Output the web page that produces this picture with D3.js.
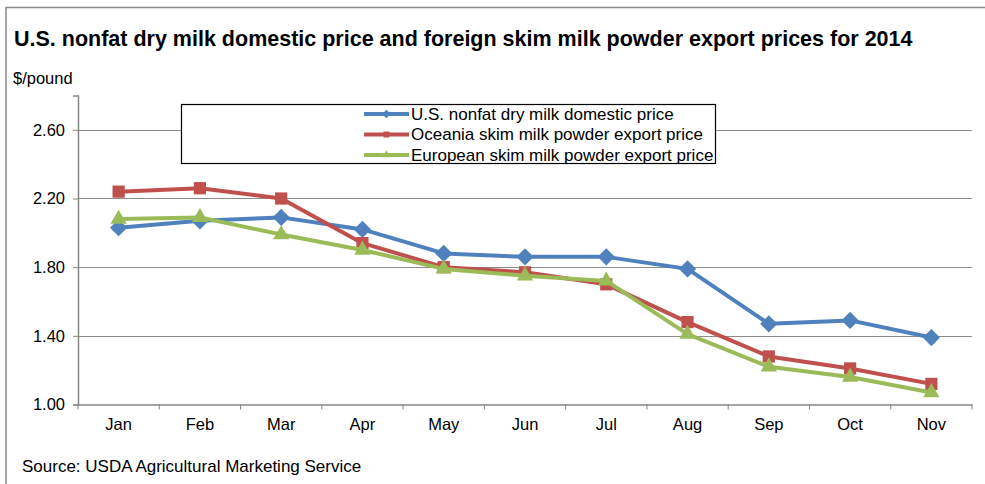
<!DOCTYPE html>
<html>
<head>
<meta charset="utf-8">
<script src="https://cdn.jsdelivr.net/npm/d3@7"></script>
<style>
  body { margin: 0; background: #fff; }
  svg text { font-family: "Liberation Sans", Arial, sans-serif; fill: #000; }
</style>
</head>
<body>
<div id="container"></div>
<script>
// data ($/pound)
const months = ["Jan", "Feb", "Mar", "Apr", "May", "Jun", "Jul", "Aug", "Sep", "Oct", "Nov"];
const usDomestic = [2.03, 2.07, 2.09, 2.02, 1.88, 1.86, 1.86, 1.79, 1.47, 1.49, 1.39];
const oceaniaExport = [2.24, 2.26, 2.20, 1.94, 1.80, 1.77, 1.70, 1.48, 1.28, 1.21, 1.12];
const europeExport = [2.08, 2.09, 1.99, 1.90, 1.79, 1.75, 1.72, 1.41, 1.22, 1.16, 1.07];
const yTicks = [1.0, 1.4, 1.8, 2.2, 2.6];
const seriesNames = [
  "U.S. nonfat dry milk domestic price",
  "Oceania skim milk powder export price",
  "European skim milk powder export price"
];

const series = [
  {name: seriesNames[0], values: usDomestic, color: "#4F81BD", symbol: d3.symbolDiamond2, size: 190},
  {name: seriesNames[1], values: oceaniaExport, color: "#C0504D", symbol: d3.symbolSquare2, size: 190},
  {name: seriesNames[2], values: europeExport, color: "#9BBB59", symbol: d3.symbolTriangle2, size: 190}
];

const W = 985, H = 484;
const plot = {left: 78, right: 972, top: 95.5, bottom: 404.5};
const fs = 16.5;

const svg = d3.select("#container").append("svg")
  .attr("width", W)
  .attr("height", H);

// outer frame (only top and left edges visible)
svg.append("path")
  .attr("d", `M6,${H} L6,7.5 L${W},7.5`)
  .attr("fill", "none")
  .attr("stroke", "#8a8a8a")
  .attr("stroke-width", 1.5);

svg.append("text")
  .attr("x", 14).attr("y", 46)
  .attr("font-size", 21.5)
  .attr("font-weight", "bold")
  .text("U.S. nonfat dry milk domestic price and foreign skim milk powder export prices for 2014");

svg.append("text")
  .attr("x", 13).attr("y", 84)
  .attr("font-size", fs)
  .text("$/pound");

const x = d3.scaleBand()
  .domain(months)
  .range([plot.left, plot.right]);
const y = d3.scaleLinear()
  .domain([1.0, 2.8])
  .range([plot.bottom, plot.top]);

// gridlines
svg.append("g")
  .selectAll("line")
  .data(yTicks.slice(1))
  .join("line")
  .attr("x1", plot.left).attr("x2", plot.right)
  .attr("y1", d => Math.round(y(d)) + 0.5).attr("y2", d => Math.round(y(d)) + 0.5)
  .attr("stroke", "#8c8c8c")
  .attr("stroke-width", 1.2);

// y axis
const yAxis = svg.append("g")
  .attr("transform", `translate(${plot.left},0)`)
  .call(d3.axisLeft(y).tickValues(yTicks).tickFormat(d3.format(".2f")).tickSize(5).tickPadding(8));
yAxis.select(".domain").attr("stroke", "#868686").attr("stroke-width", 1.5);
yAxis.selectAll(".tick line").attr("stroke", "#868686");
yAxis.selectAll(".tick text").attr("font-size", fs).attr("font-family", null);

// x axis, ticks sit between categories
const xAxis = svg.append("g")
  .attr("transform", `translate(0,${plot.bottom})`)
  .call(d3.axisBottom(x).tickSize(0).tickPadding(14));
xAxis.select(".domain").attr("stroke", "#868686").attr("stroke-width", 1.5);
xAxis.selectAll(".tick text").attr("font-size", fs).attr("font-family", null);
xAxis.selectAll(".sep")
  .data(months.map((m, i) => i).concat([months.length]))
  .join("line")
  .attr("class", "sep")
  .attr("x1", i => plot.left + i * x.step())
  .attr("x2", i => plot.left + i * x.step())
  .attr("y1", 0).attr("y2", 5)
  .attr("stroke", "#868686");

// lines + markers
const line = d3.line()
  .x((d, i) => x(months[i]) + x.bandwidth() / 2)
  .y(d => y(d));

series.forEach(s => {
  const g = svg.append("g");
  g.append("path")
    .attr("d", line(s.values))
    .attr("fill", "none")
    .attr("stroke", s.color)
    .attr("stroke-width", 4)
    .attr("stroke-linejoin", "round");
  g.selectAll("path.mk")
    .data(s.values)
    .join("path")
    .attr("class", "mk")
    .attr("d", d3.symbol(s.symbol, s.size))
    .attr("transform", (d, i) => `translate(${x(months[i]) + x.bandwidth() / 2},${y(d)})`)
    .attr("fill", s.color);
});

// legend box
const legend = svg.append("g");
legend.append("rect")
  .attr("x", 181.5).attr("y", 104.5)
  .attr("width", 534).attr("height", 59)
  .attr("fill", "#fff")
  .attr("stroke", "#000")
  .attr("stroke-width", 1.2);
series.forEach((s, i) => {
  const ly = 114 + i * 20.5;
  legend.append("line")
    .attr("x1", 364).attr("x2", 409)
    .attr("y1", ly).attr("y2", ly)
    .attr("stroke", s.color)
    .attr("stroke-width", 4);
  legend.append("path")
    .attr("d", d3.symbol(s.symbol, 45))
    .attr("transform", `translate(386.5,${ly})`)
    .attr("fill", s.color);
  legend.append("text")
    .attr("x", 411).attr("y", ly)
    .attr("dy", "0.35em")
    .attr("font-size", 17)
    .text(s.name);
});

svg.append("text")
  .attr("x", 22).attr("y", 472)
  .attr("font-size", 17)
  .text("Source: USDA Agricultural Marketing Service");
</script>
</body>
</html>
